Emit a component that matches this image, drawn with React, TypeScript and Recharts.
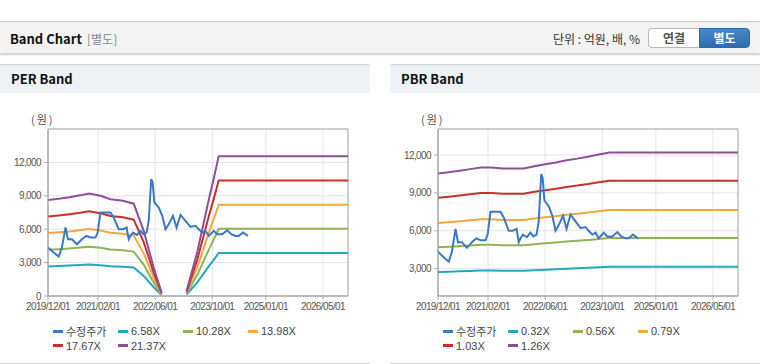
import React from 'react';
import { LineChart, Line, XAxis, YAxis, CartesianGrid, ReferenceArea } from 'recharts';

// x-axis labels (first day of month) and the right end of the axis
const xTickLabels = ['2019/12/01', '2021/02/01', '2022/06/01', '2023/10/01', '2025/01/01', '2026/05/01'];
const xStart = '2019/12/01';
const xEnd = '2026/12/01';

// 수정주가 (adjusted price)
const priceDates = [
  '2019/12/01', '2020/01/19', '2020/03/01', '2020/03/28', '2020/04/28', '2020/05/19', '2020/06/22',
  '2020/08/04', '2020/09/16', '2020/10/22', '2020/11/28', '2021/01/10', '2021/01/28', '2021/02/22',
  '2021/05/16', '2021/06/13', '2021/07/25', '2021/09/01', '2021/10/01', '2021/10/19', '2021/11/04',
  '2021/11/25', '2021/12/28', '2022/01/28', '2022/02/22', '2022/03/19', '2022/04/07', '2022/04/28',
  '2022/05/10', '2022/05/25', '2022/07/01', '2022/08/01', '2022/08/28', '2022/09/25', '2022/11/01',
  '2022/12/01', '2023/01/04', '2023/02/16', '2023/03/28', '2023/05/10', '2023/06/07', '2023/07/07',
  '2023/08/04', '2023/09/01', '2023/10/13', '2023/11/13', '2023/12/25', '2024/02/07', '2024/03/10',
  '2024/04/16', '2024/05/13', '2024/06/19', '2024/08/01',
];
const priceValues = [
  4350, 3900, 3540, 4350, 6150, 5100, 5100,
  4650, 5100, 5400, 5250, 5250, 5700, 7500,
  7500, 7050, 6000, 6000, 6150, 5100, 5400,
  5700, 5490, 5850, 5550, 5700, 6750, 10500,
  10200, 8400, 7950, 7200, 6000, 6450, 7200,
  6150, 7290, 6750, 6210, 6300, 6000, 5700,
  5850, 5400, 5850, 5550, 5550, 5900, 5550,
  5400, 5400, 5700, 5400,
];

// PER band (null = no value, line is broken)
const perDates = [
  '2019/12/01', '2020/03/01', '2020/06/01', '2020/09/01', '2020/11/16', '2021/02/22', '2021/05/16',
  '2021/09/01', '2021/12/01', '2022/02/25', '2022/05/19', '2022/07/25', '2022/11/01', '2023/02/25',
  '2023/05/25', '2023/09/04', '2023/10/16', '2023/11/25', '2026/12/01',
];
const per658 = [2658, 2691, 2731, 2783, 2836, 2770, 2678, 2632, 2553, 1803, 783, 92, null, 138, 1217, 2698, 3290, 3862, 3862];
const per1028 = [4153, 4205, 4266, 4348, 4431, 4328, 4184, 4112, 3989, 2817, 1223, 144, null, 216, 1902, 4215, 5140, 6034, 6034];
const per1398 = [5648, 5718, 5802, 5914, 6025, 5886, 5690, 5592, 5424, 3831, 1664, 196, null, 294, 2586, 5732, 6990, 8206, 8206];
const per1767 = [7139, 7227, 7333, 7474, 7616, 7439, 7192, 7068, 6856, 4842, 2103, 247, null, 371, 3269, 7245, 8835, 10372, 10372];
const per2137 = [8633, 8740, 8869, 9040, 9210, 8997, 8698, 8548, 8292, 5855, 2543, 299, null, 449, 3953, 8762, 10685, 12544, 12544];

// PBR band
const pbrDates = [
  '2019/12/01', '2020/03/01', '2020/06/01', '2020/09/01', '2020/12/01', '2021/03/01', '2021/06/01',
  '2021/09/01', '2021/12/01', '2022/03/01', '2022/06/01', '2022/09/01', '2022/12/01', '2023/03/01',
  '2023/06/01', '2023/09/01', '2023/12/01', '2026/12/01',
];
const pbr032 = [2730, 2755, 2785, 2815, 2850, 2850, 2830, 2830, 2830, 2875, 2915, 2955, 3000, 3030, 3070, 3115, 3155, 3155];
const pbr056 = [4687, 4732, 4782, 4838, 4894, 4894, 4861, 4861, 4861, 4939, 5006, 5074, 5152, 5208, 5275, 5354, 5421, 5421];
const pbr079 = [6612, 6676, 6747, 6826, 6905, 6905, 6857, 6857, 6857, 6968, 7063, 7157, 7268, 7347, 7442, 7552, 7647, 7647];
const pbr103 = [8621, 8704, 8796, 8899, 9002, 9002, 8940, 8940, 8940, 9085, 9208, 9332, 9476, 9579, 9703, 9847, 9970, 9970];
const pbr126 = [10546, 10647, 10760, 10886, 11012, 11012, 10937, 10937, 10937, 11113, 11264, 11416, 11592, 11718, 11869, 12046, 12197, 12197];

const perYTicks = [0, 3000, 6000, 9000, 12000];
const pbrYTicks = [3000, 6000, 9000, 12000];

const COLORS = ['#3a78c6', '#20a9c1', '#8fb552', '#f4a73c', '#c9302c', '#8e4e98'];
const PRICE_NAME = '수정주가';
const perNames = ['6.58X', '10.28X', '13.98X', '17.67X', '21.37X'];
const pbrNames = ['0.32X', '0.56X', '0.79X', '1.03X', '1.26X'];

// months since 2019/12/01
const toX = (d: string) => {
  const [y, m, day] = d.split('/').map(Number);
  return (y - 2019) * 12 + (m - 12) + (day - 1) / 30;
};
const xTicks = xTickLabels.map(toX);
const tickLabel = (v: number) => xTickLabels[xTicks.indexOf(v)] ?? '';

const priceData = priceDates.map((d, i) => ({ x: toX(d), v: priceValues[i] }));
const toSeries = (dates: string[], vals: (number | null)[]) => dates.map((d, i) => ({ x: toX(d), v: vals[i] }));

const tickFont = { fontSize: 10, fill: '#555', fontFamily: "'Liberation Sans', Arial, sans-serif", letterSpacing: -0.6 };
const fmt = (v: number) => v.toLocaleString('en-US');

const BandChart = ({ bands, names, yDomain, yTicks }: any) => (
  <LineChart width={370} height={230} margin={{ top: 28, right: 22, left: 8, bottom: 10 }}>
    <CartesianGrid stroke="#e3e3e3" />
    <XAxis
      type="number"
      dataKey="x"
      domain={[toX(xStart), toX(xEnd)]}
      ticks={xTicks}
      tickFormatter={tickLabel}
      tick={tickFont}
      tickSize={4}
      tickMargin={3}
      stroke="#aaa"
      height={25}
      interval={0}
      allowDataOverflow
    />
    <YAxis
      type="number"
      domain={yDomain}
      ticks={yTicks}
      tickFormatter={fmt}
      tick={tickFont}
      tickSize={4}
      tickMargin={3}
      stroke="#aaa"
      width={40}
      allowDataOverflow
    />
    <ReferenceArea x1={toX(xStart)} x2={toX(xEnd)} y1={yDomain[0]} y2={yDomain[1]} fill="none" stroke="#aaa" strokeWidth={1} />
    {bands.map((b: any, i: number) => (
      <Line
        key={names[i]}
        data={b}
        dataKey="v"
        type="linear"
        stroke={COLORS[i + 1]}
        strokeWidth={2}
        dot={false}
        activeDot={false}
        isAnimationActive={false}
      />
    ))}
    <Line data={priceData} dataKey="v" type="linear" stroke={COLORS[0]} strokeWidth={2} dot={false} activeDot={false} isAnimationActive={false} />
  </LineChart>
);

const LegendBox = ({ names }: { names: string[] }) => {
  const items = [PRICE_NAME, ...names];
  return (
    <div style={{ position: 'absolute', left: 53, top: 323, width: 270, display: 'flex', flexWrap: 'wrap' }}>
      {items.map((n, i) => (
        <div key={n} style={{ width: 65, height: 14.5, display: 'flex', alignItems: 'center', fontSize: 11, color: '#444', fontFamily: "'Liberation Sans', 'Noto Sans CJK KR', sans-serif" }}>
          <span style={{ width: 10, height: 3, background: COLORS[i], marginRight: 3, flex: 'none' }} />
          <span>{n}</span>
        </div>
      ))}
    </div>
  );
};

const Panel = ({ left, width, title, children }: any) => (
  <div style={{ position: 'absolute', left, top: 64, width, height: 300, borderTop: '1px solid #d6d6d6', borderBottom: '1px solid #d0d0d0', boxSizing: 'border-box', background: '#fff' }}>
    <div style={{ height: 28, background: '#eef2f7', fontWeight: 700, fontSize: 13, color: '#111', lineHeight: '28px', paddingLeft: 11 }}>{title}</div>
    <div style={{ position: 'absolute', left: 31, top: 46, fontSize: 11, color: '#555', letterSpacing: 2 }}>(원)</div>
    {children}
  </div>
);

export default function App() {
  const perBands = [per658, per1028, per1398, per1767, per2137].map((v) => toSeries(perDates, v));
  const pbrBands = [pbr032, pbr056, pbr079, pbr103, pbr126].map((v) => toSeries(pbrDates, v));
  return (
    <div style={{ position: 'relative', width: 760, height: 364, overflow: 'hidden', background: '#fff', fontFamily: "'Noto Sans CJK KR', 'Liberation Sans', Arial, sans-serif" }}>
      <style>{`body{margin:0}`}</style>
      {/* top bar */}
      <div style={{ position: 'absolute', left: 0, top: 21, width: 760, height: 31, background: '#f4f4f4', borderTop: '1px solid #c4c4c4', boxShadow: '0 2px 2px rgba(0,0,0,0.18)' }}>
        <span style={{ position: 'absolute', left: 10, top: 7, fontSize: 13, fontWeight: 700, color: '#111' }}>Band Chart</span>
        <span style={{ position: 'absolute', left: 87, top: 8, fontSize: 12, color: '#888' }}>[별도]</span>
        <span style={{ position: 'absolute', left: 553, top: 8, fontSize: 12, color: '#333' }}>단위 : 억원, 배, %</span>
        <div style={{ position: 'absolute', left: 648, top: 6, width: 51, height: 20, boxSizing: 'border-box', border: '1px solid #b9b9b9', borderRight: 'none', borderRadius: '4px 0 0 4px', background: '#fff', fontSize: 12, fontWeight: 700, color: '#555', textAlign: 'center', lineHeight: '18px' }}>연결</div>
        <div style={{ position: 'absolute', left: 699, top: 6, width: 51, height: 20, boxSizing: 'border-box', border: '1px solid #2f66a8', borderRadius: '0 4px 4px 0', background: 'linear-gradient(#4a88cc, #2f6cb0)', fontSize: 12, fontWeight: 700, color: '#fff', textAlign: 'center', lineHeight: '18px' }}>별도</div>
      </div>

      <Panel left={0} width={370} title="PER Band">
        <div style={{ position: 'absolute', left: 0, top: 36 }}>
          <BandChart bands={perBands} names={perNames} yDomain={[0, 15000]} yTicks={perYTicks} />
        </div>
        <div style={{ position: 'absolute', left: 0, top: -64 }}>
          <LegendBox names={perNames} />
        </div>
      </Panel>

      <Panel left={390} width={370} title="PBR Band">
        <div style={{ position: 'absolute', left: 0, top: 36 }}>
          <BandChart bands={pbrBands} names={pbrNames} yDomain={[832, 14065]} yTicks={pbrYTicks} />
        </div>
        <div style={{ position: 'absolute', left: 0, top: -64 }}>
          <LegendBox names={pbrNames} />
        </div>
      </Panel>
    </div>
  );
}
